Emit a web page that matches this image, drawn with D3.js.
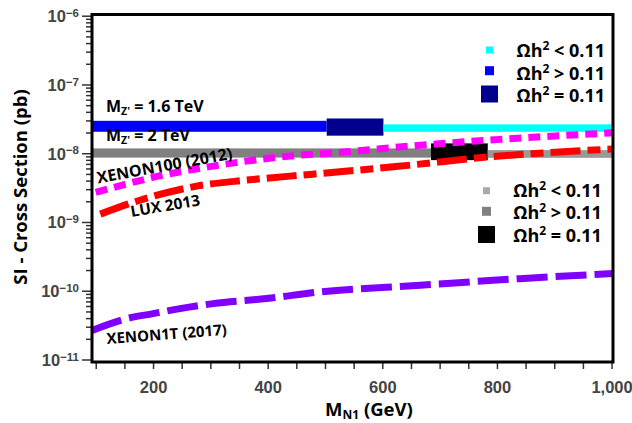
<!DOCTYPE html>
<html>
<head>
<meta charset="utf-8">
<script src="https://cdn.jsdelivr.net/npm/d3@7"></script>
<style>
  body { margin: 0; background: #fff; }
  svg { font-family: "Open Sans", sans-serif; font-weight: 700; }
</style>
</head>
<body>
<div id="chart"></div>
<script>
// axis ticks
const xLabelTicks = [200, 400, 600, 800, 1000];
const xAllTicks = [100, 150, 200, 250, 300, 350, 400, 450, 500, 550, 600, 650, 700, 750, 800, 850, 900, 950, 1000];
const yExponents = [-6, -7, -8, -9, -10, -11];

// M_Z' = 1.6 TeV: Ωh2 > 0.11, = 0.11, < 0.11
const z16Mass = [[93.5, 503], [503, 602], [602, 1002.5]];
const z16Sigma = [[2.05e-8, 2.96e-8], [1.8e-8, 3.2e-8], [2.05e-8, 2.63e-8]];
// M_Z' = 2 TeV
const z2Mass = [[93.5, 685], [685, 784], [784, 1002.5]];
const z2Sigma = [[8.63e-9, 1.175e-8], [7.94e-9, 1.39e-8], [8.57e-9, 1.11e-8]];

// experimental limits
const xenon100Mass = [100, 150, 217, 305, 421, 538, 648, 805, 1002];
const xenon100Sigma = [2.7e-9, 3.5e-9, 4.8e-9, 6.5e-9, 8.8e-9, 1.05e-8, 1.27e-8, 1.59e-8, 1.98e-8];
const luxMass = [108, 177, 276, 363, 479, 619, 788, 1002];
const luxSigma = [1.3e-9, 2.07e-9, 3.32e-9, 4.06e-9, 4.96e-9, 6.34e-9, 8.87e-9, 1.15e-8];
const xenon1tMass = [93.5, 154, 200, 247, 305, 398, 491, 666, 840, 1002];
const xenon1tSigma = [2.65e-11, 3.94e-11, 4.65e-11, 5.5e-11, 6.5e-11, 7.7e-11, 9.6e-11, 1.2e-10, 1.5e-10, 1.78e-10];

const legendRelations = ["<", ">", "="];

const z16Colors = ["#0000ff", "#00008f", "#00ffff"];
const z2Colors = ["#808080", "#000000", "#999999"];
const legend16Colors = ["#00ffff", "#0000ff", "#00008f"];
const legend2Colors = ["#aaaaaa", "#808080", "#000000"];
const legendSizes = [7, 9, 17];

const W = 632, H = 423;
const box = { left: 92, right: 613, top: 14.5, bottom: 362 };

const svg = d3.select("#chart").append("svg")
    .attr("width", W)
    .attr("height", H);

const x = d3.scaleLinear().domain([93.5, 1002.5]).range([box.left, box.right]);
const y = d3.scaleLog().domain([1e-11, 1e-6]).range([359.5, 15.7]);

svg.append("clipPath").attr("id", "clip")
    .append("rect")
    .attr("x", box.left).attr("y", box.top)
    .attr("width", box.right - box.left).attr("height", box.bottom - box.top);

const plot = svg.append("g").attr("clip-path", "url(#clip)");

// bands
function drawBand(masses, sigmas, colors) {
    plot.selectAll(null)
        .data(masses.map((m, i) => ({ m: m, s: sigmas[i], c: colors[i] })))
        .enter()
        .append("rect")
        .attr("x", d => x(d.m[0]))
        .attr("width", d => x(d.m[1]) - x(d.m[0]))
        .attr("y", d => y(d.s[1]))
        .attr("height", d => y(d.s[0]) - y(d.s[1]))
        .attr("fill", d => d.c);
}
drawBand(z16Mass, z16Sigma, z16Colors);
drawBand(z2Mass, z2Sigma, z2Colors);

// limit curves
const line = d3.line()
    .x(d => x(d[0]))
    .y(d => y(d[1]))
    .curve(d3.curveMonotoneX);

function drawCurve(mass, sigma, color, dash) {
    plot.append("path")
        .datum(mass.map((m, i) => [m, sigma[i]]))
        .attr("d", line)
        .attr("fill", "none")
        .attr("stroke", color)
        .attr("stroke-width", 7)
        .attr("stroke-dasharray", dash);
}
drawCurve(xenon100Mass, xenon100Sigma, "#ff00ff", "12,7");
drawCurve(luxMass, luxSigma, "#ff0000", "30,7,13,7");
drawCurve(xenon1tMass, xenon1tSigma, "#8000ff", "31,8");

// y axis ticks
const majors = yExponents.map(e => Math.pow(10, e));
const minors = [];
for (let e = -11; e < -6; e++) {
    for (let k = 2; k <= 9; k++) minors.push(k * Math.pow(10, e));
}

const yMinorAxis = svg.append("g")
    .attr("transform", `translate(${box.left},0)`)
    .call(d3.axisLeft(y).tickValues(minors).tickSize(6).tickFormat(""));
const yMajorAxis = svg.append("g")
    .attr("transform", `translate(${box.left},0)`)
    .call(d3.axisLeft(y).tickValues(majors).tickSize(10).tickPadding(4).tickFormat(""));
[yMinorAxis, yMajorAxis].forEach(g => {
    g.select(".domain").remove();
    g.selectAll("line").attr("stroke", "#333").attr("stroke-width", 1.5);
});
yMajorAxis.selectAll(".tick text")
    .attr("fill", "#444")
    .style("font-size", "16.5px")
    .attr("x", -13)
    .attr("dy", "0.36em")
    .each(function (d) {
        const t = d3.select(this);
        t.append("tspan").text("10");
        t.append("tspan")
            .attr("dy", "-0.45em")
            .style("font-size", "11.5px")
            .text("\u2212" + Math.round(-Math.log10(d)));
    });

// x axis ticks
const xAxis = svg.append("g")
    .attr("transform", `translate(0,${box.bottom})`)
    .call(d3.axisBottom(x).tickValues(xAllTicks).tickSize(7).tickPadding(12)
        .tickFormat(d => xLabelTicks.includes(d) ? d3.format(",")(d) : ""));
xAxis.select(".domain").remove();
xAxis.selectAll("line").attr("stroke", "#333").attr("stroke-width", 1.5);
xAxis.selectAll("text").attr("fill", "#444").style("font-size", "16.5px");

// frame
svg.append("rect")
    .attr("x", box.left).attr("y", box.top)
    .attr("width", box.right - box.left).attr("height", box.bottom - box.top)
    .attr("fill", "none")
    .attr("stroke", "#000")
    .attr("stroke-width", 3);

// axis titles
svg.append("text")
    .attr("transform", "translate(27,187) rotate(-90)")
    .attr("text-anchor", "middle")
    .style("font-size", "18.5px")
    .text("SI - Cross Section (pb)");

const xTitle = svg.append("text")
    .attr("x", 325).attr("y", 416)
    .style("font-size", "18.5px");
xTitle.append("tspan").text("M");
xTitle.append("tspan").attr("dy", 2.5).style("font-size", "12px").text("N1");
xTitle.append("tspan").attr("dy", -2.5).text(" (GeV)");

// band labels
function mzLabel(px, py, value) {
    const t = svg.append("text").attr("x", px).attr("y", py).style("font-size", "16px");
    t.append("tspan").text("M");
    t.append("tspan").attr("dy", 3).style("font-size", "10.5px").text("Z'");
    t.append("tspan").attr("dy", -3).text(" = " + value);
}
mzLabel(106, 112, "1.6 TeV");
mzLabel(106, 140.5, "2 TeV");

// curve labels
function rotLabel(px, py, angle, size, txt) {
    svg.append("text")
        .attr("transform", `translate(${px},${py}) rotate(${angle})`)
        .style("font-size", size + "px")
        .text(txt);
}
rotLabel(98, 183.5, -10.4, 16, "XENON100 (2012)");
rotLabel(131.5, 217, -9.7, 15.5, "LUX 2013");
rotLabel(107, 344, -4.4, 15, "XENON1T (2017)");

// legends
function legend(cx, cys, textX, baselines, colors) {
    legendRelations.forEach((rel, i) => {
        const s = legendSizes[i];
        svg.append("rect")
            .attr("x", cx - s / 2).attr("y", cys[i] - s / 2)
            .attr("width", s).attr("height", s)
            .attr("fill", colors[i]);
        const t = svg.append("text")
            .attr("x", textX).attr("y", baselines[i])
            .style("font-size", "18px");
        t.append("tspan").text("\u03a9h");
        t.append("tspan").attr("dy", -7).style("font-size", "12px").text("2");
        t.append("tspan").attr("dy", 7).text(" " + rel + " 0.11");
    });
}
legend(489.5, [50, 70.7, 94], 516.5, [56.5, 79.5, 102], legend16Colors);
legend(486.5, [190.7, 211.3, 234.5], 513.3, [196.5, 218.5, 242], legend2Colors);
</script>
</body>
</html>
